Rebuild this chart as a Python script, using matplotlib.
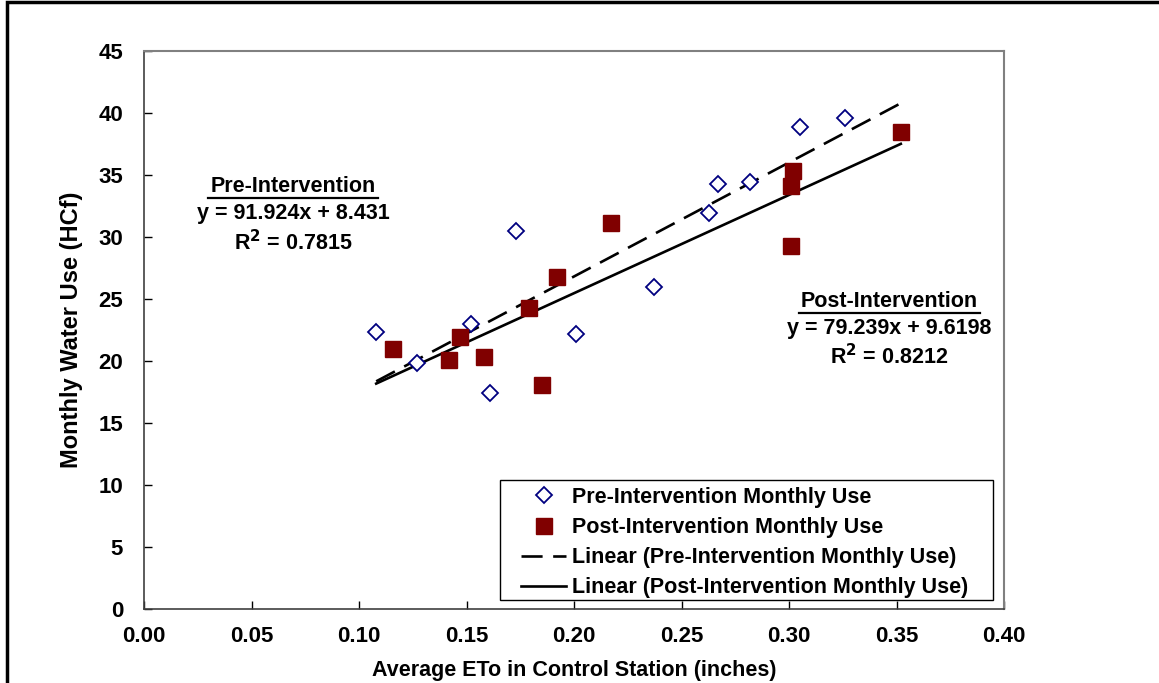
import matplotlib.pyplot as plt
import numpy as np
from matplotlib.patches import Rectangle

plt.rcParams['font.family'] = ['Liberation Sans', 'DejaVu Sans']
plt.rcParams['font.weight'] = 'bold'

# donnees
pre_x = [0.108, 0.127, 0.152, 0.161, 0.173, 0.201, 0.237, 0.263, 0.267, 0.282, 0.305, 0.326]
pre_y = [22.3, 19.8, 23.0, 17.4, 30.5, 22.2, 26.0, 31.9, 34.3, 34.4, 38.9, 39.6]
post_x = [0.116, 0.142, 0.147, 0.158, 0.185, 0.179, 0.192, 0.217, 0.302, 0.301, 0.301, 0.352]
post_y = [21.0, 20.1, 21.9, 20.35, 18.1, 24.3, 26.8, 31.1, 35.3, 34.1, 29.3, 38.5]

# droites de tendance (Excel)
pre_fit = (91.924, 8.431, 0.7815)
post_fit = (79.239, 9.6198, 0.8212)

FS = 15.5
W, H = 1159, 683

fig = plt.figure(figsize=(11.59, 6.83), dpi=100)
ax = fig.add_axes([144 / W, 1 - 609 / H, 860 / W, 558 / H])

ax.plot(pre_x, pre_y, linestyle='none', marker='D', markersize=8.5,
        markerfacecolor='white', markeredgecolor='#000080', markeredgewidth=1.3,
        label='Pre-Intervention Monthly Use', zorder=3)
ax.plot(post_x, post_y, linestyle='none', marker='s', markersize=11,
        markerfacecolor='#800000', markeredgecolor='#800000',
        label='Post-Intervention Monthly Use', zorder=3)

xs = np.array([min(pre_x + post_x), max(pre_x + post_x)])
ax.plot(xs, pre_fit[0] * xs + pre_fit[1], color='black', lw=1.9, dashes=(8, 4),
        label='Linear (Pre-Intervention Monthly Use)', zorder=2)
ax.plot(xs, post_fit[0] * xs + post_fit[1], color='black', lw=1.9,
        label='Linear (Post-Intervention Monthly Use)', zorder=2)

ax.set_xlim(0, 0.40)
ax.set_ylim(0, 45)
ax.set_xticks(np.arange(0, 0.401, 0.05))
ax.set_yticks(range(0, 46, 5))
ax.set_xticklabels(['%.2f' % v for v in np.arange(0, 0.401, 0.05)])
ax.tick_params(direction='in', length=6, width=1, labelsize=16, pad=12)
ax.tick_params(axis='y', pad=15)
for t in ax.get_xticklabels() + ax.get_yticklabels():
    t.set_fontweight('bold')
for s in ['top', 'right']:
    ax.spines[s].set_color('#808080')
    ax.spines[s].set_linewidth(1.5)
for s in ['left', 'bottom']:
    ax.spines[s].set_color('#404040')
    ax.spines[s].set_linewidth(1.2)

fig.text(72 / W, 1 - 330 / H, 'Monthly Water Use (HCf)', rotation=90, ha='center',
         va='center', fontsize=17, fontweight='bold')
# titre de l'axe x : coupe en bas dans l'original, on le garde lisible tout en bas
fig.text(574 / W, 2 / H, 'Average ETo in Control Station (inches)', ha='center', va='bottom',
         fontsize=FS, fontweight='bold')

# annotations
fig.text(293 / W, 1 - 187 / H, 'Pre-Intervention', ha='center', va='center',
         fontsize=FS, fontweight='bold')
fig.add_artist(plt.Line2D([208 / W, 378 / W], [1 - 198 / H, 1 - 198 / H],
                          color='black', lw=1.6))
fig.text(293 / W, 1 - 214 / H, 'y = 91.924x + 8.431', ha='center', va='center',
         fontsize=FS, fontweight='bold')
fig.text(293 / W, 1 - 243 / H, 'R$^{\\mathbf{2}}$ = 0.7815', ha='center', va='center',
         fontsize=FS, fontweight='bold')

fig.text(889 / W, 1 - 302 / H, 'Post-Intervention', ha='center', va='center',
         fontsize=FS, fontweight='bold')
fig.add_artist(plt.Line2D([799 / W, 980 / W], [1 - 313 / H, 1 - 313 / H],
                          color='black', lw=1.6))
fig.text(889 / W, 1 - 329 / H, 'y = 79.239x + 9.6198', ha='center', va='center',
         fontsize=FS, fontweight='bold')
fig.text(889 / W, 1 - 357 / H, 'R$^{\\mathbf{2}}$ = 0.8212', ha='center', va='center',
         fontsize=FS, fontweight='bold')

# legende sans cadre + rectangle dessine a part
leg = ax.legend(loc='upper left', bbox_to_anchor=(521 / W, 1 - 487 / H),
                bbox_transform=fig.transFigure,
                fontsize=FS, frameon=False, handlelength=2.1, borderaxespad=0,
                labelspacing=0.42, handletextpad=0.25, borderpad=0)
for t in leg.get_texts():
    t.set_fontweight('bold')
fig.add_artist(Rectangle((500 / W, 1 - 600 / H), 493 / W, 120 / H,
                         transform=fig.transFigure, fill=False, edgecolor='black',
                         lw=1.0, zorder=5))

# cadre du graphique
fig.add_artist(Rectangle((7 / W, -0.1), 1.2, 1.1 - 2 / H, transform=fig.transFigure,
                         fill=False, edgecolor='black', lw=2.5))

fig.savefig('out.png', dpi=100)
